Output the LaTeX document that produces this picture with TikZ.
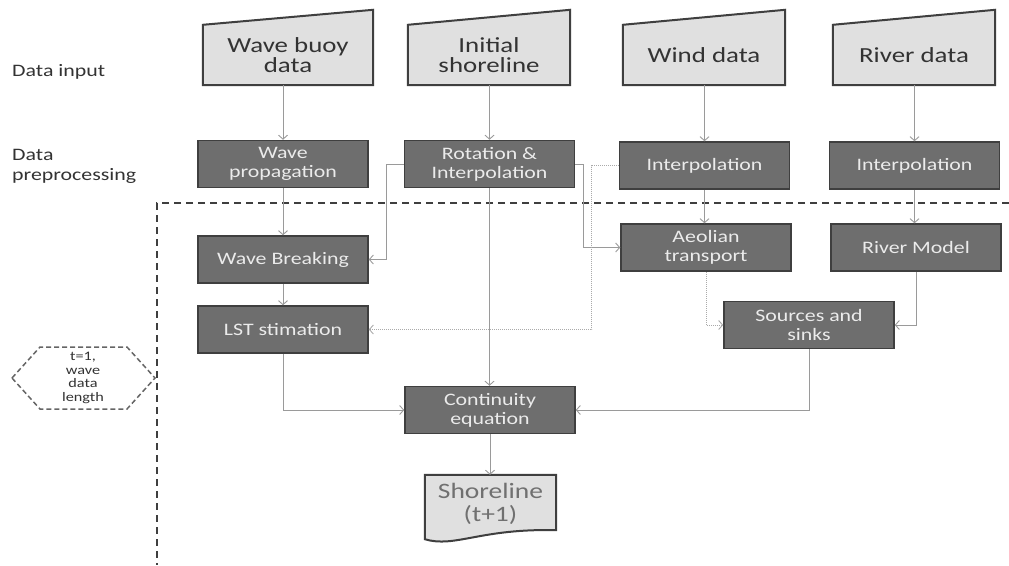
\documentclass[tikz,border=0pt]{standalone}
\usepackage{fontspec}
\setmainfont{Carlito}[FakeStretch=1.25]
\usepackage{tikz}
\usetikzlibrary{shapes,arrows,arrows.meta,positioning,backgrounds,calc}
\usepackage{xcolor}
\definecolor{boxgray}{HTML}{6E6E6E}
\definecolor{boxline}{HTML}{3F3F3F}
\definecolor{inputgray}{HTML}{E0E0E0}
\definecolor{linegray}{HTML}{9A9A9A}
\definecolor{dotgray}{HTML}{AAAAAA}
\definecolor{textdark}{HTML}{333333}
\definecolor{textout}{HTML}{707070}

\begin{document}
\begin{tikzpicture}[x=1pt,y=-1pt]
      \tikzstyle{datain} = [rectangle, align=center, text=textdark, minimum height=60pt, inner sep=0pt, font=\fontsize{21.5}{20}\selectfont]
      \tikzstyle{process} = [rectangle, draw=boxline, line width=1.5pt, fill=boxgray, text=white!92!black, align=center, minimum width=170pt, minimum height=47pt, inner sep=0pt, font=\fontsize{17.5}{19}\selectfont]
      \tikzstyle{inshape} = [fill=inputgray, draw=boxline, line width=2pt]
      \tikzstyle{conn} = [draw=linegray, line width=0.9pt, -{Straight Barb[length=4pt,width=9pt]}]
      \tikzstyle{dotconn} = [conn, draw=dotgray, dash pattern=on 1pt off 1pt]
      \tikzstyle{rowlabel} = [align=left, anchor=west, text=textdark, inner sep=0pt, font=\fontsize{17.5}{20}\selectfont]
      \tikzstyle{frame} = [draw=boxline, line width=2pt, dash pattern=on 7pt off 5pt]

      \useasboundingbox (0,0) rectangle (1009,565);

      % data input
      \node[datain, minimum width=170pt] (buoy) at (288,55) {Wave buoy\\data};
      \node[datain, minimum width=162pt] (shore) at (489,55) {Initial\\shoreline};
      \node[datain, minimum width=162pt] (wind) at (704,55) {Wind data};
      \node[datain, minimum width=162pt] (river) at (914,55) {River data};

      \node[rowlabel] (lblin) at (12,72) {Data input};
      \node[rowlabel] (lblpre) at (12,166) {Data\\preprocessing};

      % processing steps
      \node[process] (prop) at (283,164) {Wave\\propagation};
      \node[process] (rot) at (489.5,164) {Rotation \&\\Interpolation};
      \node[process] (interpw) at (704.5,165.5) {Interpolation};
      \node[process] (interpr) at (914.5,165.5) {Interpolation};
      \node[process] (break) at (283,259.5) {Wave Breaking};
      \node[process] (aeol) at (706,247.5) {Aeolian\\transport};
      \node[process] (rivm) at (916,247.5) {River Model};
      \node[process] (lst) at (283,329.5) {LST stimation};
      \node[process] (sink) at (809,325) {Sources and\\sinks};
      \node[process] (cont) at (490,410) {Continuity\\equation};

      \node[align=center, minimum width=131pt, minimum height=57pt, inner sep=0pt, text=textout, font=\fontsize{22}{23}\selectfont] (out) at (490.5,503.5) {Shoreline\\(t+1)};

      \node[align=center, inner sep=0pt, text=textdark, font=\fontsize{13}{13.7}\selectfont] (tstep) at (83,378) {t=1,\\wave\\data\\length};

      \begin{scope}[on background layer]
        \foreach \n in {buoy,shore,wind,river}
          \draw[inshape] (\n.south west) -- (\n.north west) -- ($(\n.north east)+(0,-15)$) -- (\n.south east) -- cycle;
        \draw[inshape] (out.north west) -- ($(out.south west)+(0,7)$)
          .. controls ($(out.south west)+(30,16)$) and ($(out.south east)+(-76,-4)$) .. ($(out.south east)+(0,-2)$)
          -- (out.north east) -- cycle;
      \end{scope}

      \draw[draw=boxline!80, line width=1.5pt, dash pattern=on 5pt off 3pt] ($(tstep)+(-71,0)$) -- ($(tstep)+(-43,-31)$) -- ($(tstep)+(44,-31)$) -- ($(tstep)+(72,0)$) -- ($(tstep)+(44,31)$) -- ($(tstep)+(-43,31)$) -- cycle;

      \draw[frame] (1009,203) -- (157,203) -- (157,565);

      % connectors
      \draw[conn] (buoy.south -| prop) -- (prop);
      \draw[conn] (shore.south -| rot) -- (rot);
      \draw[conn] (wind.south -| interpw) -- (interpw);
      \draw[conn] (river.south -| interpr) -- (interpr);
      \draw[conn] (prop) -- (break);
      \draw[conn] (break) -- (lst);
      \draw[conn] (rot.west) -- ++(-17,0) |- (break.east);
      \draw[conn] (rot.east) -- ++(8,0) |- (aeol.west);
      \draw[conn] (rot.south) -- (rot.south |- cont.north);
      \draw[conn] (interpw.south) -- (interpw.south |- aeol.north);
      \draw[conn] (interpr.south) -- (interpr.south |- rivm.north);
      \draw[dotconn] (interpw.west) -- ++(-27,0) |- (lst.east);
      \draw[dotconn] (aeol.south) |- (sink.west);
      \draw[conn] (rivm.south) |- (sink.east);
      \draw[conn] (lst.south) |- (cont.west);
      \draw[conn] (sink.south) |- (cont.east);
      \draw[conn] (cont.south) -- (cont.south |- out.north);
\end{tikzpicture}
\end{document}
